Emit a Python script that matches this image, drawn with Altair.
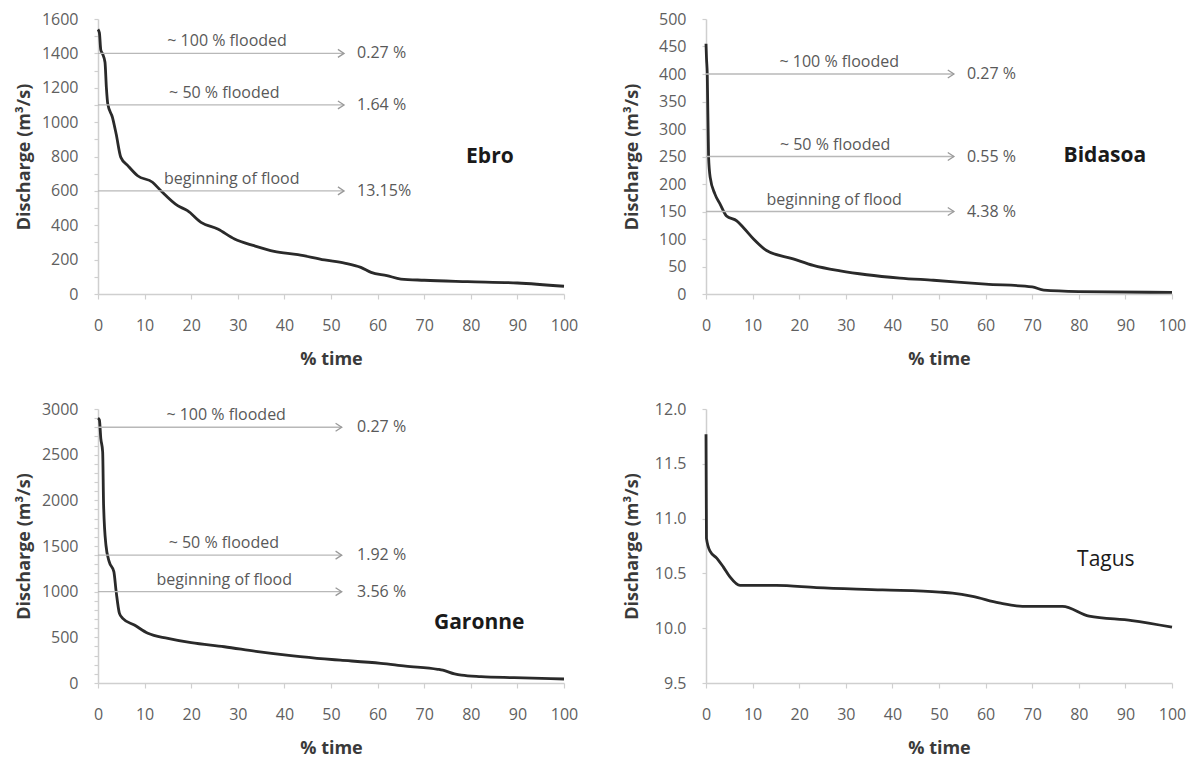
import altair as alt
import pandas as pd

# ---------------- data ----------------
time_ticks = [0, 10, 20, 30, 40, 50, 60, 70, 80, 90, 100]

ebro_t = [0, 0.3, 0.6, 1.0, 1.5, 1.8, 2.1, 3.1, 3.9, 4.9, 6.4, 8.5, 11.7, 13.5, 17.1, 19.2,
          22.1, 25.7, 29.3, 33.5, 37.8, 42.9, 48.6, 52.9, 56.4, 58.6, 62.0, 65.0, 70.0,
          79.3, 90.0, 100]
ebro_q = [1540, 1520, 1420, 1396, 1348, 1200, 1105, 1028, 931, 795, 747, 688, 650, 601, 514,
          485, 417, 378, 320, 281, 248, 229, 198, 180, 155, 126, 107, 87, 80, 72, 64, 45]

bidasoa_t = [0, 0.1, 0.27, 0.55, 0.9, 1.9, 3.0, 4.4, 6.6, 8.0, 10.2, 13.0, 18.7, 23.0, 28.8,
             34.5, 41.6, 48.8, 60, 70, 72.5, 80, 100]
bidasoa_q = [455, 430, 400, 250, 212, 182, 164, 142, 133, 121, 100, 79, 64, 52, 42, 35, 29,
             25, 18, 13, 7, 4.5, 3]

garonne_t = [0, 0.3, 0.6, 1.0, 1.2, 1.7, 2.4, 3.4, 3.9, 4.6, 5.3, 7.8, 10.7, 15.0, 20.0, 27.1,
             34.3, 41.4, 48.6, 52, 60.7, 66, 72.9, 74, 76.5, 78, 82.2, 89.3, 100]
garonne_q = [2900, 2880, 2679, 2532, 1949, 1511, 1328, 1219, 1000, 763, 708, 635, 544, 489,
             441, 397, 343, 299, 263, 250, 215, 185, 150, 140, 100, 85, 69, 58, 44]

tagus_t = [0, 0.1, 0.9, 2.3, 3.7, 5.1, 7.3, 15.1, 23.7, 37.9, 50.1, 52.9, 57.2, 62.9, 67.9,
           76.5, 82.2, 91.4, 100]
tagus_q = [11.77, 10.82, 10.70, 10.64, 10.56, 10.47, 10.39, 10.39, 10.37, 10.35, 10.33, 10.32,
           10.29, 10.23, 10.20, 10.20, 10.11, 10.07, 10.01]

flood_labels = ["~ 100 % flooded", "~ 50 % flooded", "beginning of flood"]

ebro_levels = [1400, 1100, 600]
ebro_pct = ["0.27 %", "1.64 %", "13.15%"]
bidasoa_levels = [400, 250, 150]
bidasoa_pct = ["0.27 %", "0.55 %", "4.38 %"]
garonne_levels = [2800, 1400, 1000]
garonne_pct = ["0.27 %", "1.92 %", "3.56 %"]

ebro_yticks = list(range(0, 1601, 100))
bidasoa_yticks = list(range(0, 501, 50))
garonne_yticks = list(range(0, 3001, 100))
tagus_yticks = [9.5, 10.0, 10.5, 11.0, 11.5, 12.0]

# ---------------- styling ----------------
FONT = "Open Sans"
W = 466
CURVE = "#2a2a2a"
ARROW = "#b8b8b8"
ANN_TEXT = "#595959"


def panel(name, t, q, ydom, yticks, label_step, yfmt, height,
          levels=None, pcts=None, lab_x=None, arrow_end=None, pct_x=None,
          name_x=0, name_y=0, name_weight="bold"):
    xsc = alt.Scale(domain=[0, 100], nice=False, zero=False)
    ysc = alt.Scale(domain=ydom, nice=False, zero=False)
    label_expr = None
    if label_step:
        label_expr = f"abs(datum.value % {label_step}) < 1e-9 ? datum.label : ''"
    xaxis = alt.Axis(values=time_ticks, title="% time", labelFlush=False, tickSize=5,
                     labelPadding=18, titleX=W / 2, titleY=70,
                     titleBaseline="alphabetic")
    yargs = dict(values=yticks, title="Discharge (m³/s)", tickSize=4, labelPadding=16,
                 titleX=-69, titleY=height / 2, titleBaseline="alphabetic", format=yfmt)
    if label_expr:
        yargs["labelExpr"] = label_expr
    yaxis = alt.Axis(**yargs)

    curve = pd.DataFrame({"t": t, "q": q})
    layers = [
        alt.Chart(curve).mark_line(color=CURVE, strokeWidth=2.8, interpolate="monotone").encode(
            x=alt.X("t:Q", scale=xsc, axis=xaxis),
            y=alt.Y("q:Q", scale=ysc, axis=yaxis),
        )
    ]
    if levels:
        ann = pd.DataFrame({
            "level": levels, "lab": flood_labels, "pct": pcts,
            "x0": [0] * 3, "x1": [arrow_end] * 3, "xl": lab_x, "xp": [pct_x] * 3,
        })
        layers.append(
            alt.Chart(ann).mark_rule(color=ARROW, strokeWidth=1.3).encode(
                x=alt.X("x0:Q", scale=xsc, axis=xaxis), x2="x1:Q",
                y=alt.Y("level:Q", scale=ysc, axis=yaxis),
            )
        )
        layers.append(
            alt.Chart(ann).mark_point(shape="M-1,-0.65L0,0L-1,0.65", filled=False,
                                      color="#9a9a9a", strokeWidth=1.3, size=150,
                                      opacity=1).encode(
                x=alt.X("x1:Q", scale=xsc, axis=xaxis),
                y=alt.Y("level:Q", scale=ysc, axis=yaxis),
            )
        )
        layers.append(
            alt.Chart(ann).mark_text(font=FONT, fontSize=16, color=ANN_TEXT, dy=-12,
                                     align="center", baseline="middle").encode(
                x=alt.X("xl:Q", scale=xsc, axis=xaxis),
                y=alt.Y("level:Q", scale=ysc, axis=yaxis),
                text="lab:N",
            )
        )
        layers.append(
            alt.Chart(ann).mark_text(font=FONT, fontSize=16, color=ANN_TEXT, dy=0,
                                     align="left", baseline="middle").encode(
                x=alt.X("xp:Q", scale=xsc, axis=xaxis),
                y=alt.Y("level:Q", scale=ysc, axis=yaxis),
                text="pct:N",
            )
        )
    nm = pd.DataFrame({"name": [name], "x": [name_x], "y": [name_y]})
    layers.append(
        alt.Chart(nm).mark_text(font=FONT, fontSize=21, fontWeight=name_weight,
                                color="#1a1a1a", align="center", baseline="middle").encode(
            x=alt.X("x:Q", scale=xsc, axis=xaxis),
            y=alt.Y("y:Q", scale=ysc, axis=yaxis),
            text="name:N",
        )
    )
    return alt.layer(*layers).properties(width=W, height=height)


ebro = panel("Ebro", ebro_t, ebro_q, [0, 1600], ebro_yticks, 200, "d", 275,
             levels=ebro_levels, pcts=ebro_pct, lab_x=[27.7, 27.1, 28.7],
             arrow_end=52.8, pct_x=55.6, name_x=84.1, name_y=797)
bidasoa = panel("Bidasoa", bidasoa_t, bidasoa_q, [0, 500], bidasoa_yticks, None, "d", 275,
                levels=bidasoa_levels, pcts=bidasoa_pct, lab_x=[28.6, 27.7, 27.5],
                arrow_end=53.2, pct_x=56.0, name_x=85.6, name_y=251)
garonne = panel("Garonne", garonne_t, garonne_q, [0, 3000], garonne_yticks, 500, "d", 274,
                levels=garonne_levels, pcts=garonne_pct, lab_x=[27.5, 27.0, 27.1],
                arrow_end=52.3, pct_x=55.6, name_x=81.8, name_y=657)
tagus = panel("Tagus", tagus_t, tagus_q, [9.5, 12.0], tagus_yticks, None, ".1f", 274,
              name_x=85.8, name_y=10.62, name_weight="normal")

chart = alt.concat(
    ebro, bidasoa, garonne, tagus, columns=2,
    spacing={"row": 115, "column": 142}, bounds="flush",
).properties(
    padding={"left": 6, "top": 3, "right": 0, "bottom": 2},
    background="white",
).configure_view(stroke=None).configure_axis(
    grid=False,
    domainColor="#cfcfcf",
    domainWidth=1.5,
    tickColor="#cfcfcf",
    tickWidth=1.2,
    labelFont=FONT,
    labelFontSize=16,
    labelColor="#5f5f5f",
    titleFont=FONT,
    titleFontSize=18,
    titleFontWeight="bold",
    titleColor="#3a3a3a",
)

chart.save("out.html", embed_options={"renderer": "svg", "actions": False})
